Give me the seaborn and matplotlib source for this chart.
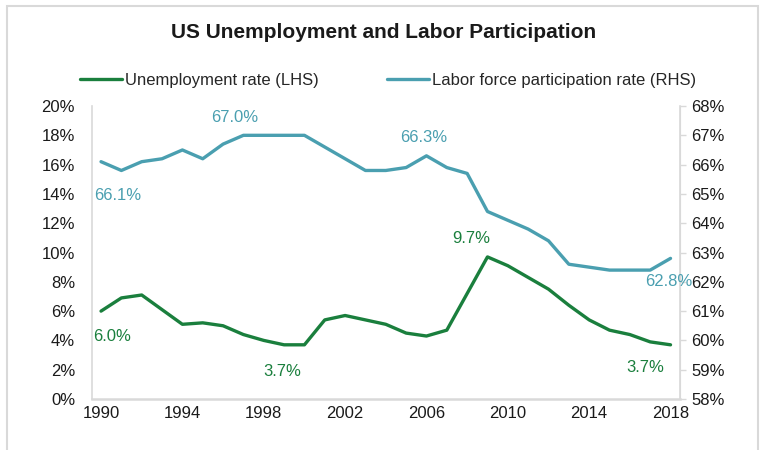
import matplotlib
matplotlib.use("Agg")
import matplotlib.pyplot as plt
from matplotlib.patches import Rectangle
from matplotlib.ticker import FuncFormatter, MultipleLocator, FixedLocator
import seaborn as sns
import pandas as pd

years = list(range(1990, 2019))
unemployment = [6.0, 6.9, 7.1, 6.1, 5.1, 5.2, 5.0, 4.4, 4.0, 3.7, 3.7, 5.4, 5.7, 5.4, 5.1,
                4.5, 4.3, 4.7, 7.2, 9.7, 9.1, 8.3, 7.5, 6.4, 5.4, 4.7, 4.4, 3.9, 3.7]
participation = [66.1, 65.8, 66.1, 66.2, 66.5, 66.2, 66.7, 67.0, 67.0, 67.0, 67.0, 66.6, 66.2,
                 65.8, 65.8, 65.9, 66.3, 65.9, 65.7, 64.4, 64.1, 63.8, 63.4, 62.6, 62.5,
                 62.4, 62.4, 62.4, 62.8]
year_ticks = years[::4]

# data labels: (year, text offset in points)
unemp_labels = [(1990, (8, -18)), (1999, (-1, -19)), (2009, (-12, 13)), (2018, (-18, -16))]
part_labels = [(1990, (12, -24)), (1997, (-6, 13)), (2006, (-2, 13)), (2018, (-1, -17))]

GREEN = "#1a7f3d"
BLUE = "#4a9fb0"
GRID = "#d9d9d9"
TEXT = "#1a1a1a"

df = pd.DataFrame({"year": years, "unemp": unemployment, "lfpr": participation})

sns.set_style("white")
plt.rcParams["font.family"] = ["Liberation Sans", "DejaVu Sans"]

fig = plt.figure(figsize=(7.64, 4.5), dpi=100)
ax = fig.add_axes([0.12, 0.1133, 0.7707, 0.6511])
ax2 = ax.twinx()

sns.lineplot(data=df, x="year", y="unemp", ax=ax, color=GREEN, lw=2.4,
             label="Unemployment rate (LHS)", legend=False)
sns.lineplot(data=df, x="year", y="lfpr", ax=ax2, color=BLUE, lw=2.4,
             label="Labor force participation rate (RHS)", legend=False)

ax.set_xlim(1989.54, 2018.49)
ax.set_ylim(0, 20)
ax2.set_ylim(58, 68)
ax.xaxis.set_major_locator(FixedLocator(year_ticks))
ax.xaxis.set_major_formatter(FuncFormatter(lambda v, p: f"{v:.0f}"))
ax.yaxis.set_major_locator(MultipleLocator(2))
ax2.yaxis.set_major_locator(MultipleLocator(1))
ax.yaxis.set_major_formatter(FuncFormatter(lambda v, p: f"{v:.0f}%"))
ax2.yaxis.set_major_formatter(FuncFormatter(lambda v, p: f"{v:.0f}%"))
ax.set_xlabel("")
ax.set_ylabel("")
ax2.set_ylabel("")

for a in (ax, ax2):
    for s in a.spines.values():
        s.set_color(GRID)
    a.spines["top"].set_visible(False)
ax.spines["left"].set_linewidth(1.2)
ax.spines["bottom"].set_linewidth(1.8)
ax2.spines["right"].set_linewidth(1.2)
ax2.spines["left"].set_visible(False)
ax2.spines["bottom"].set_visible(False)

ax.tick_params(axis="x", length=0, pad=5, labelsize=12, labelcolor=TEXT)
ax.tick_params(axis="y", length=0, pad=12, labelsize=12, labelcolor=TEXT)
ax2.tick_params(axis="y", length=4, width=1, color=GRID, pad=4, labelsize=12, labelcolor=TEXT)

for yr, off in unemp_labels:
    v = unemployment[years.index(yr)]
    ax.annotate(f"{v:.1f}%", xy=(yr, v), xytext=off, textcoords="offset points",
                ha="center", va="center", color=GREEN, fontsize=12)
for yr, off in part_labels:
    v = participation[years.index(yr)]
    ax2.annotate(f"{v:.1f}%", xy=(yr, v), xytext=off, textcoords="offset points",
                 ha="center", va="center", color=BLUE, fontsize=12)

handles = ax.get_lines()[:1] + ax2.get_lines()[:1]
fig.legend(handles, [h.get_label() for h in handles], loc="center",
           bbox_to_anchor=(0.508, 1 - 80 / 450), ncol=2, frameon=False,
           fontsize=12, handlelength=2.5, columnspacing=4.1, handletextpad=0.2)

fig.text(0.502, 1 - 33 / 450, "US Unemployment and Labor Participation",
         ha="center", va="center", fontsize=15, fontweight="bold", color=TEXT)

fig.patches.append(Rectangle((7 / 764, -0.05), 751 / 764, 1.05 - 6 / 450,
                             transform=fig.transFigure, fill=False,
                             edgecolor=GRID, lw=1.5))

fig.savefig("out.png", dpi=100)
